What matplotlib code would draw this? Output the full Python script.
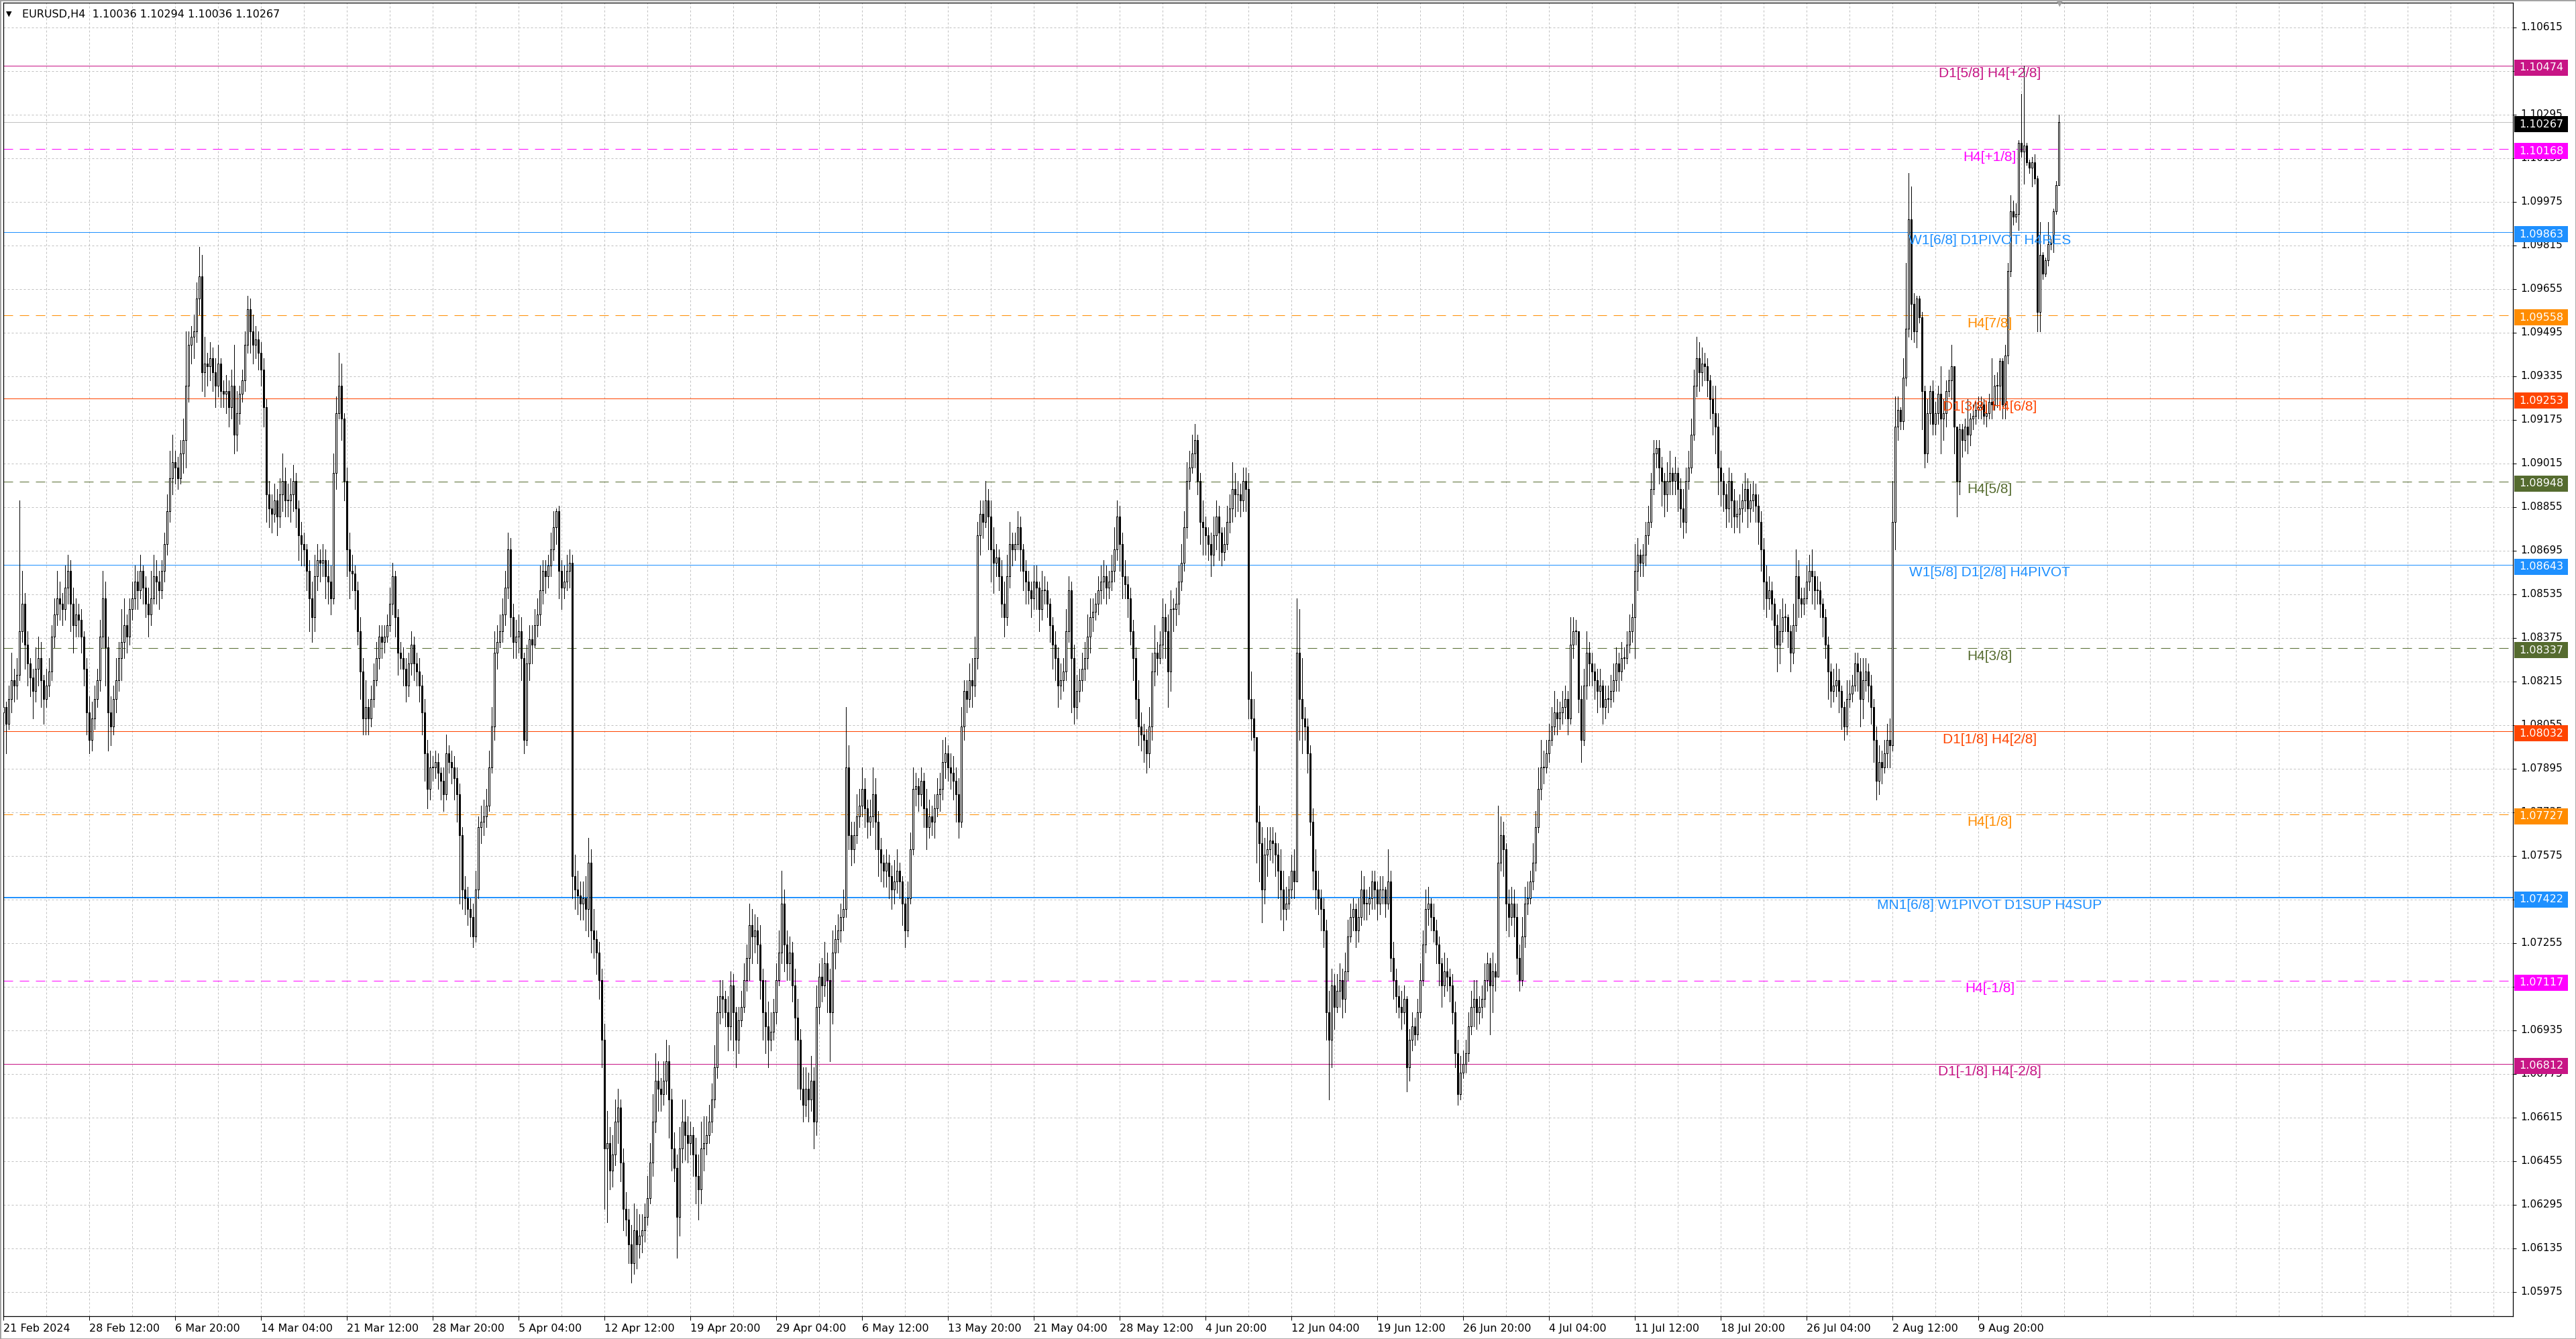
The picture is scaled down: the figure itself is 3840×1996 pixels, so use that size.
import matplotlib
matplotlib.use("Agg")
import matplotlib.pyplot as plt
from matplotlib.patches import Rectangle

# EURUSD H4, 21 Feb 2024 04:00 .. 16 Aug 2024 20:00, prices in pips (10812 -> 1.0812)
first_open = 10810
close = [
    10812, 10806, 10815, 10822, 10820, 10824, 10840, 10850, 10835, 10828, 10823, 10818, 10826, 10830, 10822, 10815, 10820,
    10825, 10838, 10846, 10852, 10850, 10848, 10856, 10862, 10850, 10842, 10846, 10844, 10838, 10826, 10810, 10800, 10808, 10815, 10822, 10838, 10852, 10834, 10810, 10805, 10815, 10822, 10830, 10836, 10842, 10838,
    10848, 10852, 10858, 10855, 10862, 10856, 10850, 10846, 10852, 10860, 10858, 10855, 10862, 10872, 10884, 10896, 10902, 10900, 10896, 10905, 10910, 10930, 10945, 10948, 10950, 10962, 10970, 10935, 10938, 10937,
    10940, 10935, 10930, 10938, 10928, 10927, 10928, 10922, 10930, 10912, 10920, 10927, 10932, 10945, 10958, 10950, 10945, 10947, 10942, 10936, 10922, 10890, 10885, 10883, 10888, 10882, 10890, 10895, 10888, 10888,
    10890, 10895, 10885, 10875, 10872, 10870, 10862, 10852, 10845, 10860, 10866, 10865, 10866, 10860, 10858, 10852, 10898, 10920, 10930, 10918, 10895, 10870, 10862, 10861, 10855, 10840, 10825, 10808, 10812, 10808,
    10815, 10822, 10830, 10838, 10836, 10838, 10842, 10850, 10860, 10845, 10832, 10830, 10826, 10820, 10828, 10835, 10828, 10825, 10820, 10810, 10795, 10782, 10790, 10790, 10792, 10788, 10785, 10780, 10795, 10792,
    10790, 10786, 10780, 10765, 10745, 10742, 10738, 10735, 10728, 10745, 10768, 10770, 10772, 10776, 10790, 10805, 10832, 10836, 10840, 10846, 10856, 10870, 10845, 10836, 10838, 10840, 10830, 10800, 10828, 10837,
    10835, 10842, 10846, 10855, 10862, 10860, 10864, 10870, 10878, 10884, 10862, 10856, 10858, 10862, 10865, 10750, 10745, 10743, 10740, 10742, 10738, 10755, 10730, 10727, 10722, 10712, 10690, 10650, 10652, 10642,
    10648, 10660, 10665, 10645, 10628, 10624, 10615, 10608, 10620, 10615, 10618, 10620, 10625, 10632, 10645, 10660, 10675, 10672, 10670, 10675, 10682, 10668, 10650, 10643, 10625, 10650, 10660, 10655, 10652, 10655,
    10648, 10640, 10635, 10650, 10652, 10655, 10660, 10668, 10680, 10700, 10706, 10705, 10700, 10695, 10710, 10700, 10690, 10697, 10702, 10712, 10720, 10732, 10728, 10730, 10725, 10712, 10700, 10695, 10690, 10693,
    10700, 10712, 10722, 10740, 10725, 10718, 10722, 10710, 10698, 10690, 10672, 10666, 10672, 10668, 10675, 10660, 10702, 10713, 10710, 10718, 10712, 10700, 10722, 10727, 10730, 10735, 10738, 10790, 10765, 10760,
    10765, 10772, 10776, 10782, 10775, 10770, 10772, 10780, 10770, 10760, 10755, 10752, 10755, 10750, 10745, 10748, 10752, 10748, 10740, 10730, 10742, 10760, 10782, 10783, 10780, 10785, 10775, 10768, 10772, 10770,
    10775, 10780, 10782, 10792, 10795, 10790, 10788, 10785, 10780, 10770, 10805, 10818, 10815, 10822, 10820, 10830, 10875, 10883, 10880, 10888, 10882, 10870, 10865, 10867, 10860, 10850, 10845, 10860, 10872, 10870,
    10872, 10878, 10870, 10862, 10858, 10855, 10852, 10858, 10856, 10848, 10855, 10855, 10850, 10842, 10835, 10830, 10820, 10822, 10825, 10840, 10855, 10830, 10812, 10818, 10822, 10826, 10830, 10838, 10845, 10847,
    10850, 10855, 10858, 10860, 10856, 10858, 10862, 10870, 10882, 10872, 10860, 10857, 10852, 10840, 10830, 10815, 10805, 10802, 10800, 10795, 10805, 10825, 10832, 10830, 10835, 10845, 10840, 10825, 10848, 10848,
    10850, 10858, 10865, 10878, 10895, 10900, 10905, 10910, 10895, 10880, 10878, 10875, 10872, 10868, 10875, 10882, 10876, 10869, 10872, 10880, 10885, 10892, 10890, 10890, 10888, 10895, 10892, 10815, 10808, 10801,
    10770, 10762, 10745, 10758, 10760, 10763, 10762, 10758, 10752, 10745, 10738, 10740, 10745, 10752, 10748, 10832, 10815, 10808, 10805, 10795, 10770, 10752, 10745, 10742, 10738, 10730, 10700, 10690, 10710, 10702,
    10708, 10712, 10705, 10715, 10728, 10735, 10738, 10730, 10735, 10745, 10740, 10740, 10742, 10748, 10745, 10740, 10745, 10745, 10740, 10748, 10720, 10712, 10706, 10702, 10700, 10705, 10680, 10690, 10695, 10692,
    10700, 10712, 10725, 10738, 10740, 10735, 10730, 10725, 10718, 10710, 10715, 10713, 10710, 10700, 10685, 10670, 10678, 10681, 10685, 10695, 10702, 10705, 10700, 10702, 10705, 10712, 10718, 10710, 10715, 10713,
    10755, 10765, 10760, 10740, 10735, 10740, 10735, 10720, 10712, 10728, 10740, 10742, 10748, 10755, 10768, 10782, 10790, 10790, 10795, 10800, 10805, 10810, 10808, 10810, 10812, 10815, 10808, 10835, 10840, 10840,
    10815, 10800, 10820, 10832, 10828, 10825, 10822, 10818, 10820, 10812, 10815, 10815, 10818, 10822, 10828, 10825, 10830, 10830, 10835, 10840, 10845, 10862, 10868, 10865, 10868, 10875, 10880, 10892, 10905, 10907,
    10900, 10895, 10890, 10895, 10898, 10895, 10898, 10892, 10885, 10880, 10895, 10900, 10912, 10930, 10940, 10935, 10938, 10937, 10932, 10925, 10920, 10915, 10900, 10895, 10890, 10885, 10895, 10888, 10882, 10883,
    10885, 10888, 10892, 10885, 10888, 10890, 10886, 10880, 10870, 10858, 10852, 10855, 10850, 10842, 10835, 10840, 10845, 10845, 10840, 10832, 10842, 10860, 10852, 10850, 10852, 10858, 10862, 10860, 10855, 10855,
    10850, 10845, 10835, 10825, 10818, 10820, 10822, 10818, 10812, 10805, 10815, 10817, 10820, 10828, 10825, 10815, 10822, 10825, 10820, 10812, 10800, 10785, 10792, 10790, 10795, 10800, 10798, 10880, 10915, 10921,
    10917, 10933, 10951, 10991, 10960, 10950, 10962, 10955, 10928, 10905, 10920, 10928, 10916, 10920, 10927, 10918, 10920, 10928, 10932, 10937, 10915, 10895, 10914, 10910, 10915, 10912, 10918, 10919, 10921, 10922,
    10923, 10919, 10920, 10924, 10923, 10930, 10930, 10939, 10923, 10941, 10972, 10994, 10992, 10993, 11019, 11016, 11018, 11012, 11010, 11012, 11006, 10957, 10978, 10971, 10976, 10982, 10982.5, 10994, 11003.6, 11026.7,
]
high = [
    10818, 10814, 10820, 10832, 10826, 10830, 10888, 10862, 10854, 10840, 10830, 10826, 10834, 10838, 10836, 10824, 10826,
    10830, 10842, 10852, 10862, 10858, 10854, 10864, 10868, 10866, 10856, 10852, 10850, 10848, 10840, 10830, 10816, 10814, 10820, 10826, 10844, 10862, 10858, 10838, 10816, 10820, 10830, 10836, 10848, 10852, 10846,
    10852, 10858, 10864, 10862, 10868, 10864, 10860, 10856, 10862, 10868, 10866, 10862, 10866, 10876, 10890, 10906, 10912, 10906, 10904, 10910, 10918, 10950, 10950, 10952, 10956, 10968, 10981, 10978, 10948, 10942,
    10946, 10944, 10940, 10945, 10940, 10932, 10934, 10932, 10936, 10945, 10928, 10930, 10936, 10950, 10963, 10962, 10956, 10952, 10950, 10946, 10940, 10925, 10895, 10890, 10894, 10892, 10896, 10905, 10900, 10894,
    10896, 10901, 10898, 10888, 10880, 10876, 10872, 10866, 10858, 10868, 10872, 10870, 10872, 10870, 10866, 10864, 10905, 10926, 10942, 10938, 10920, 10900, 10876, 10868, 10864, 10858, 10845, 10830, 10822, 10815,
    10820, 10828, 10836, 10842, 10842, 10842, 10846, 10856, 10865, 10862, 10848, 10836, 10834, 10830, 10832, 10840, 10838, 10832, 10830, 10824, 10815, 10800, 10796, 10794, 10796, 10795, 10790, 10790, 10802, 10798,
    10796, 10794, 10790, 10784, 10768, 10750, 10746, 10742, 10740, 10752, 10772, 10776, 10778, 10782, 10796, 10812, 10840, 10842, 10846, 10852, 10862, 10876, 10874, 10850, 10844, 10846, 10845, 10832, 10835, 10842,
    10842, 10848, 10852, 10864, 10866, 10866, 10868, 10876, 10884, 10885, 10886, 10866, 10864, 10868, 10870, 10868, 10758, 10752, 10748, 10748, 10750, 10764, 10760, 10738, 10730, 10726, 10716, 10696, 10664, 10658,
    10655, 10668, 10672, 10668, 10650, 10634, 10628, 10622, 10630, 10628, 10626, 10626, 10630, 10640, 10652, 10670, 10685, 10682, 10676, 10682, 10690, 10688, 10672, 10656, 10648, 10658, 10668, 10668, 10662, 10660,
    10658, 10654, 10648, 10660, 10662, 10662, 10666, 10674, 10688, 10706, 10712, 10712, 10708, 10706, 10715, 10714, 10702, 10702, 10708, 10718, 10725, 10740, 10738, 10736, 10735, 10732, 10716, 10712, 10704, 10700,
    10705, 10718, 10730, 10752, 10745, 10730, 10728, 10726, 10716, 10705, 10694, 10680, 10680, 10678, 10684, 10680, 10710, 10718, 10720, 10726, 10722, 10716, 10730, 10732, 10736, 10740, 10745, 10812, 10798, 10770,
    10770, 10780, 10782, 10790, 10786, 10778, 10778, 10790, 10786, 10774, 10764, 10758, 10760, 10758, 10754, 10756, 10760, 10755, 10750, 10742, 10748, 10766, 10790, 10788, 10786, 10790, 10788, 10782, 10778, 10776,
    10780, 10786, 10788, 10800, 10801, 10798, 10795, 10794, 10790, 10786, 10812, 10822, 10822, 10828, 10830, 10838, 10880, 10888, 10888, 10895, 10892, 10888, 10878, 10872, 10870, 10866, 10858, 10868, 10880, 10876,
    10876, 10884, 10882, 10872, 10866, 10862, 10858, 10864, 10864, 10858, 10862, 10860, 10858, 10852, 10845, 10840, 10834, 10828, 10830, 10848, 10860, 10858, 10835, 10824, 10826, 10832, 10836, 10846, 10852, 10852,
    10854, 10860, 10864, 10866, 10864, 10862, 10868, 10878, 10888, 10886, 10876, 10866, 10860, 10856, 10844, 10834, 10822, 10810, 10806, 10804, 10812, 10832, 10842, 10836, 10840, 10852, 10850, 10846, 10855, 10852,
    10856, 10864, 10872, 10884, 10902, 10906, 10912, 10916, 10912, 10898, 10888, 10882, 10878, 10876, 10882, 10888, 10886, 10878, 10878, 10886, 10890, 10902, 10898, 10895, 10894, 10900, 10900, 10898, 10825, 10815,
    10785, 10776, 10768, 10764, 10768, 10768, 10768, 10766, 10762, 10760, 10752, 10746, 10750, 10758, 10760, 10852, 10848, 10830, 10812, 10808, 10798, 10775, 10760, 10752, 10745, 10742, 10734, 10708, 10716, 10714,
    10714, 10718, 10716, 10722, 10734, 10740, 10742, 10740, 10742, 10752, 10750, 10745, 10746, 10752, 10752, 10748, 10750, 10750, 10746, 10760, 10752, 10726, 10716, 10710, 10708, 10710, 10706, 10694, 10700, 10698,
    10705, 10718, 10730, 10745, 10746, 10742, 10740, 10734, 10728, 10720, 10722, 10720, 10716, 10714, 10704, 10690, 10684, 10686, 10690, 10700, 10708, 10712, 10712, 10706, 10710, 10718, 10722, 10720, 10722, 10718,
    10776, 10772, 10770, 10762, 10745, 10746, 10745, 10740, 10725, 10735, 10746, 10748, 10752, 10762, 10774, 10790, 10800, 10796, 10800, 10806, 10812, 10818, 10815, 10814, 10818, 10820, 10818, 10845, 10845, 10844,
    10840, 10820, 10826, 10840, 10836, 10832, 10828, 10826, 10826, 10822, 10820, 10820, 10824, 10828, 10834, 10832, 10836, 10834, 10840, 10846, 10850, 10872, 10874, 10870, 10872, 10880, 10886, 10898, 10910, 10910,
    10910, 10904, 10898, 10902, 10906, 10900, 10904, 10900, 10896, 10892, 10900, 10906, 10918, 10936, 10948, 10946, 10944, 10942, 10940, 10934, 10930, 10930, 10920, 10906, 10898, 10894, 10900, 10898, 10892, 10888,
    10890, 10894, 10898, 10896, 10894, 10895, 10894, 10890, 10884, 10874, 10864, 10860, 10858, 10852, 10846, 10848, 10852, 10850, 10846, 10842, 10850, 10870, 10866, 10856, 10856, 10864, 10868, 10870, 10862, 10860,
    10858, 10852, 10848, 10838, 10828, 10826, 10828, 10826, 10820, 10814, 10822, 10822, 10824, 10832, 10832, 10830, 10830, 10830, 10828, 10824, 10815, 10805, 10798, 10796, 10800, 10806, 10808, 10895, 10926, 10926,
    10922, 10940, 10975, 11008, 11003, 10964, 10963, 10963, 10957, 10930, 10925, 10930, 10932, 10924, 10930, 10937, 10925, 10932, 10936, 10945, 10937, 10915, 10916, 10916, 10918, 10925, 10920, 10923, 10924, 10926,
    10926, 10925, 10923, 10927, 10940, 10934, 10935, 10940, 10940, 10945, 10975, 11000, 10998, 10997, 11020, 11037, 11047.4, 11019, 11013, 11014, 11015, 11007, 10990, 10979, 10977, 10990, 10984, 10995, 11005, 11029.4,
]
low = [
    10798, 10795, 10804, 10810, 10814, 10815, 10822, 10836, 10826, 10820, 10816, 10808, 10814, 10820, 10812, 10806, 10812,
    10816, 10822, 10834, 10842, 10844, 10842, 10844, 10850, 10840, 10832, 10838, 10838, 10832, 10820, 10802, 10795, 10796, 10804, 10812, 10818, 10834, 10820, 10796, 10798, 10802, 10810, 10818, 10822, 10830, 10832,
    10835, 10844, 10848, 10848, 10852, 10850, 10845, 10838, 10842, 10850, 10850, 10848, 10852, 10858, 10868, 10880, 10890, 10894, 10892, 10894, 10898, 10900, 10924, 10938, 10940, 10946, 10956, 10928, 10926, 10930,
    10932, 10928, 10922, 10926, 10922, 10922, 10920, 10915, 10918, 10905, 10906, 10916, 10924, 10928, 10942, 10942, 10938, 10940, 10936, 10930, 10915, 10880, 10878, 10876, 10880, 10875, 10878, 10884, 10882, 10882,
    10880, 10884, 10878, 10866, 10864, 10864, 10855, 10840, 10836, 10840, 10855, 10858, 10860, 10852, 10850, 10846, 10850, 10892, 10918, 10910, 10888, 10860, 10852, 10855, 10848, 10835, 10815, 10802, 10802, 10802,
    10805, 10812, 10820, 10826, 10830, 10832, 10836, 10840, 10846, 10838, 10824, 10826, 10820, 10814, 10816, 10824, 10822, 10820, 10814, 10802, 10785, 10775, 10778, 10785, 10786, 10782, 10778, 10774, 10778, 10788,
    10784, 10778, 10770, 10740, 10738, 10736, 10732, 10728, 10724, 10726, 10742, 10762, 10765, 10768, 10774, 10788, 10800, 10826, 10834, 10836, 10842, 10852, 10838, 10830, 10830, 10832, 10822, 10795, 10798, 10822,
    10828, 10834, 10838, 10842, 10850, 10854, 10856, 10860, 10866, 10872, 10852, 10848, 10852, 10855, 10856, 10742, 10738, 10736, 10734, 10734, 10730, 10728, 10722, 10720, 10714, 10705, 10680, 10628, 10623, 10635,
    10636, 10644, 10652, 10638, 10620, 10618, 10608, 10601, 10604, 10606, 10610, 10612, 10616, 10622, 10630, 10640, 10656, 10664, 10664, 10666, 10670, 10654, 10642, 10638, 10610, 10618, 10645, 10646, 10645, 10648,
    10640, 10630, 10624, 10630, 10642, 10648, 10652, 10656, 10665, 10676, 10696, 10698, 10695, 10686, 10690, 10686, 10680, 10685, 10695, 10700, 10708, 10712, 10718, 10722, 10718, 10705, 10690, 10685, 10680, 10686,
    10690, 10696, 10710, 10718, 10715, 10712, 10712, 10704, 10690, 10672, 10668, 10660, 10662, 10660, 10664, 10650, 10655, 10696, 10704, 10706, 10700, 10682, 10696, 10716, 10722, 10726, 10730, 10735, 10760, 10754,
    10755, 10762, 10768, 10772, 10768, 10764, 10765, 10768, 10760, 10750, 10748, 10746, 10746, 10742, 10738, 10740, 10744, 10742, 10732, 10724, 10728, 10740, 10758, 10776, 10774, 10776, 10768, 10760, 10764, 10765,
    10764, 10772, 10774, 10778, 10786, 10785, 10782, 10778, 10770, 10764, 10768, 10800, 10810, 10812, 10812, 10816, 10826, 10868, 10874, 10878, 10870, 10858, 10854, 10860, 10855, 10845, 10838, 10842, 10856, 10864,
    10866, 10870, 10862, 10855, 10850, 10850, 10845, 10848, 10848, 10840, 10844, 10850, 10845, 10836, 10826, 10822, 10812, 10815, 10818, 10822, 10836, 10810, 10806, 10808, 10814, 10818, 10822, 10826, 10832, 10840,
    10844, 10846, 10850, 10852, 10850, 10852, 10855, 10858, 10866, 10862, 10852, 10852, 10845, 10835, 10822, 10808, 10798, 10796, 10792, 10788, 10790, 10800, 10820, 10824, 10828, 10830, 10830, 10812, 10818, 10840,
    10842, 10846, 10855, 10862, 10874, 10892, 10898, 10900, 10890, 10872, 10868, 10868, 10866, 10860, 10864, 10870, 10866, 10864, 10866, 10870, 10876, 10880, 10882, 10884, 10882, 10884, 10884, 10808, 10800, 10796,
    10755, 10748, 10733, 10740, 10750, 10756, 10755, 10750, 10742, 10734, 10730, 10734, 10738, 10742, 10742, 10748, 10800, 10795, 10800, 10788, 10765, 10745, 10738, 10736, 10730, 10724, 10690, 10668, 10680, 10694,
    10700, 10702, 10698, 10700, 10712, 10726, 10730, 10724, 10726, 10732, 10734, 10734, 10736, 10738, 10738, 10734, 10736, 10740, 10735, 10738, 10715, 10705, 10700, 10698, 10694, 10696, 10671, 10675, 10686, 10688,
    10690, 10698, 10710, 10722, 10732, 10730, 10726, 10718, 10710, 10702, 10706, 10708, 10704, 10696, 10680, 10666, 10668, 10676, 10678, 10682, 10692, 10695, 10694, 10696, 10698, 10702, 10708, 10692, 10700, 10708,
    10748, 10752, 10750, 10730, 10728, 10732, 10728, 10714, 10708, 10710, 10724, 10736, 10740, 10745, 10752, 10766, 10778, 10784, 10788, 10792, 10798, 10802, 10802, 10804, 10806, 10808, 10802, 10806, 10830, 10835,
    10810, 10792, 10798, 10815, 10820, 10820, 10815, 10810, 10812, 10806, 10808, 10810, 10812, 10814, 10818, 10818, 10822, 10826, 10828, 10832, 10836, 10830, 10855, 10860, 10860, 10864, 10872, 10878, 10890, 10900,
    10894, 10886, 10882, 10884, 10890, 10890, 10890, 10884, 10878, 10874, 10876, 10892, 10898, 10910, 10926, 10928, 10930, 10932, 10926, 10918, 10912, 10905, 10890, 10886, 10884, 10878, 10880, 10878, 10876, 10878,
    10876, 10880, 10884, 10878, 10880, 10884, 10880, 10872, 10862, 10848, 10845, 10848, 10844, 10834, 10825, 10828, 10836, 10840, 10834, 10825, 10828, 10840, 10845, 10845, 10846, 10850, 10855, 10850, 10848, 10850,
    10845, 10838, 10830, 10815, 10812, 10814, 10816, 10810, 10804, 10800, 10802, 10812, 10814, 10818, 10818, 10805, 10808, 10818, 10814, 10806, 10792, 10778, 10780, 10784, 10788, 10790, 10790, 10796, 10870, 10910,
    10914, 10914, 10930, 10948, 10947, 10946, 10944, 10953, 10914, 10900, 10902, 10916, 10912, 10912, 10916, 10905, 10910, 10915, 10926, 10925, 10905, 10882, 10890, 10904, 10906, 10905, 10908, 10914, 10916, 10918,
    10918, 10916, 10915, 10918, 10918, 10921, 10922, 10922, 10918, 10918, 10938, 10970, 10989, 10990, 10987, 11014, 11004, 11011, 11008, 11003, 11004, 10950, 10950, 10969, 10970, 10974, 10980, 10979, 10993, 11003.6,
]

time_labels = ["21 Feb 2024", "28 Feb 12:00", "6 Mar 20:00", "14 Mar 04:00", "21 Mar 12:00", "28 Mar 20:00",
               "5 Apr 04:00", "12 Apr 12:00", "19 Apr 20:00", "29 Apr 04:00", "6 May 12:00", "13 May 20:00",
               "21 May 04:00", "28 May 12:00", "4 Jun 20:00", "12 Jun 04:00", "19 Jun 12:00", "26 Jun 20:00",
               "4 Jul 04:00", "11 Jul 12:00", "18 Jul 20:00", "26 Jul 04:00", "2 Aug 12:00", "9 Aug 20:00"]
price_ticks = [1.10615, 1.10455, 1.10295, 1.10135, 1.09975, 1.09815, 1.09655, 1.09495, 1.09335, 1.09175,
               1.09015, 1.08855, 1.08695, 1.08535, 1.08375, 1.08215, 1.08055, 1.07895, 1.07735, 1.07575,
               1.07415, 1.07255, 1.07095, 1.06935, 1.06775, 1.06615, 1.06455, 1.06295, 1.06135, 1.05975]

level_prices = [1.10474, 1.10168, 1.09863, 1.09558, 1.09253, 1.08948, 1.08643,
                1.08337, 1.08032, 1.07727, 1.07422, 1.07117, 1.06812]
level_names = ["D1[5/8] H4[+2/8]", "H4[+1/8]", "W1[6/8] D1PIVOT H4RES", "H4[7/8]", "D1[3/8] H4[6/8]",
               "H4[5/8]", "W1[5/8] D1[2/8] H4PIVOT", "H4[3/8]", "D1[1/8] H4[2/8]", "H4[1/8]",
               "MN1[6/8] W1PIVOT D1SUP H4SUP", "H4[-1/8]", "D1[-1/8] H4[-2/8]"]
level_colors = ["#C71585", "#FF00FF", "#1E90FF", "#FF8C00", "#FF4500", "#556B2F", "#1E90FF",
                "#556B2F", "#FF4500", "#FF8C00", "#1E90FF", "#FF00FF", "#C71585"]
level_dashed = [False, True, False, True, False, True, False, True, False, True, False, True, False]
bid_price = 1.10267
header = "EURUSD,H4  1.10036 1.10294 1.10036 1.10267"

assert len(close) == len(high) == len(low)

plt.rcParams["font.family"] = ["DejaVu Sans"]
W, H = 3840, 1996
fig = plt.figure(figsize=(W / 100, H / 100), dpi=100, facecolor="white")
ax_l, ax_r, ax_t, ax_b = 5, 3746, 4, 1962
ax = fig.add_axes([ax_l / W, 1 - ax_b / H, (ax_r - ax_l) / W, (ax_b - ax_t) / H])
strip = fig.add_axes([ax_r / W, 1 - ax_b / H, (W - ax_r) / W, (ax_b - ax_t) / H])

n = len(close)
xs = list(range(n))
c = [v / 10000 for v in close]
hi = [v / 10000 for v in high]
lo = [v / 10000 for v in low]
o = [first_open / 10000] + c[:-1]

ymin, ymax = 1.058857, 1.107053
pip_px = 40625  # pixels per 1.0 of price

ax.set_xlim(0, (ax_r - ax_l) / 4)
ax.set_ylim(ymin, ymax)

# grid
ax.set_yticks(price_ticks)
ax.set_xticks(range(0, 940, 16), minor=True)
ax.set_xticks([32 * k for k in range(len(time_labels))])
ax.set_xticklabels(time_labels, ha="left", fontsize=11.5)
ax.tick_params(axis="y", left=False, labelleft=False)
ax.tick_params(axis="x", which="major", direction="out", length=4, width=0.72, pad=4)
ax.tick_params(axis="x", which="minor", length=0)
ax.grid(True, which="both", axis="x", color="#C0C0C0", linestyle=(0, (3, 3)), linewidth=0.72, zorder=0)
ax.grid(True, which="major", axis="y", color="#C0C0C0", linestyle=(0, (3, 3)), linewidth=0.72, zorder=0)
ax.set_axisbelow(True)
for s in ax.spines.values():
    s.set_linewidth(0.9)
    s.set_color("black")

# levels
for p, name, col, dsh in zip(level_prices, level_names, level_colors, level_dashed):
    lw = 1.4 if p == 1.07422 else 0.72
    ls = (0, (14, 10)) if dsh else "-"
    ax.axhline(p, color=col, lw=lw, linestyle=ls, zorder=1)
    ax.annotate(name, xy=(0.7915, p), xycoords=("axes fraction", "data"), xytext=(0, -12),
                textcoords="offset pixels", ha="center", va="center", color=col,
                fontsize=15, family="Liberation Sans", zorder=6)
ax.axhline(bid_price, color="#C0C0C0", lw=0.72, zorder=1)

# candles
body_lo = [min(a, b) for a, b in zip(o, c)]
body_h = [max(abs(b - a), 0.00002) for a, b in zip(o, c)]
colors = ["white" if b >= a else "black" for a, b in zip(o, c)]
ax.vlines(xs, lo, hi, colors="black", linewidth=0.72, zorder=3, antialiased=False)
ax.bar(xs, body_h, bottom=body_lo, width=0.5, color=colors, edgecolor="black",
       linewidth=0.72, zorder=4, antialiased=False)

# right price scale
strip.set_xlim(0, W - ax_r)
strip.set_ylim(ymin, ymax)
strip.axis("off")
strip.hlines(price_ticks, 0, 5, colors="black", lw=0.72)
for t in price_ticks:
    strip.text(11, t, f"{t:.5f}", va="center", ha="left", fontsize=11, color="black", zorder=2)
box_h = 24 / pip_px
shift = 3 / pip_px
for p, col in zip(level_prices + [bid_price], level_colors + ["black"]):
    strip.add_patch(Rectangle((2, p - shift - box_h / 2), 80, box_h, facecolor=col,
                              edgecolor="none", zorder=3))
    strip.text(42, p - shift, f"{p:.5f}", va="center", ha="center", fontsize=11.5,
               color="white", zorder=4)

# header
fig.text(13 / W, 1 - 21 / H, "▼", fontsize=8, ha="center", va="center")
fig.text(33 / W, 1 - 21 / H, header, fontsize=11.5, ha="left", va="center")
fig.text(3070 / W, 1 - 6 / H, "▼", fontsize=8, ha="center", va="center", color="#A0A0A0")
fig.patches.append(Rectangle((0, 0), 1, 1, transform=fig.transFigure, fill=False,
                             edgecolor="#A0A0A0", lw=2))

fig.savefig("out.png", dpi=100, facecolor="white")
